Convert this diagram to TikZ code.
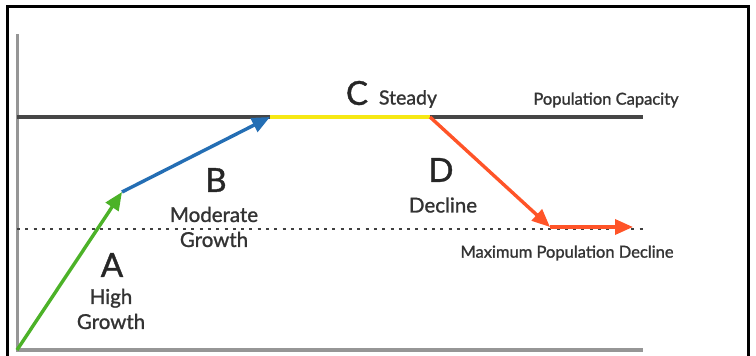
\documentclass[tikz,border=0pt]{standalone}
\usepackage{fontspec}
\setmainfont{Lato}[FakeBold=1.2]
\usetikzlibrary{arrows.meta}
\definecolor{cgreen}{RGB}{76,178,40}
\definecolor{cblue}{RGB}{36,110,180}
\definecolor{cyellow}{RGB}{246,232,20}
\definecolor{cred}{RGB}{255,84,40}
\definecolor{caxis}{RGB}{150,150,150}
\definecolor{ccap}{RGB}{70,70,70}
\tikzset{
  seg/.style={line width=3.4pt,-{Triangle[length=18pt,width=15pt]}},
  big/.style={font=\fontsize{33}{33}\selectfont, text=black!85},
  lbl/.style={font=\fontsize{20.5}{25}\selectfont, text=black!80, align=center},
  small/.style={font=\fontsize{16.5}{18}\selectfont, text=black!80},
}
\begin{document}
\begin{tikzpicture}[x=1pt,y=-1pt]
\useasboundingbox (0,0) rectangle (756,356);
\fill[white] (0,0) rectangle (756,356);
% frame
\draw[line width=2.8pt,black] (7.5,370) -- (7.5,6.5) -- (748.5,6.5) -- (748.5,370);
% axes
\coordinate (ytop) at (17,34);
\coordinate (ybot) at (17,352);
\coordinate (x0) at (15.5,350);
\coordinate (xend) at (643,350);
\draw[caxis,line width=3pt] (ytop) -- (ybot);
\draw[caxis,line width=3.2pt] (x0) -- (xend);
% capacity line
\coordinate (c0) at (17,117);
\coordinate (c1) at (643,117);
\draw[ccap,line width=3.6pt] (c0) -- (c1);
% dotted line
\coordinate (d0) at (17,229);
\coordinate (d1) at (643,229);
\draw[black!75,line width=2.8pt,dash pattern=on 3pt off 5.3pt] (d0) -- (d1);
% path points
\coordinate (p0) at (17,350);
\coordinate (p1) at (122,192);
\coordinate (p2) at (270,117);
\coordinate (p3) at (430,117);
\coordinate (p4) at (550,227);
\coordinate (p5) at (633,227);
\draw[cyellow,line width=4.4pt] (p2) -- (p3);
\draw[seg,cgreen] (p0) -- (p1);
\draw[seg,cblue] (p1) -- (p2);
\draw[seg,cred] (p3) -- (p4);
\draw[seg,cred] (p4) -- (p5);
% labels
\node[big] (lC) at (357,93) {C};
\node[small,font=\fontsize{19.5}{21}\selectfont] (lSteady) at (408,99) {Steady};
\node[small] (lPC) at (606,100) {Population Capacity};
\node[big] (lB) at (216,180) {B};
\node[lbl] (lBt) at (214,227) {Moderate\\Growth};
\node[big] (lD) at (441,170) {D};
\node[lbl] (lDt) at (443,205) {Decline};
\node[big] (lA) at (112,265) {A};
\node[lbl] (lAt) at (111,309) {High\\Growth};
\node[small] (lMPD) at (567,253) {Maximum Population Decline};
\end{tikzpicture}
\end{document}
